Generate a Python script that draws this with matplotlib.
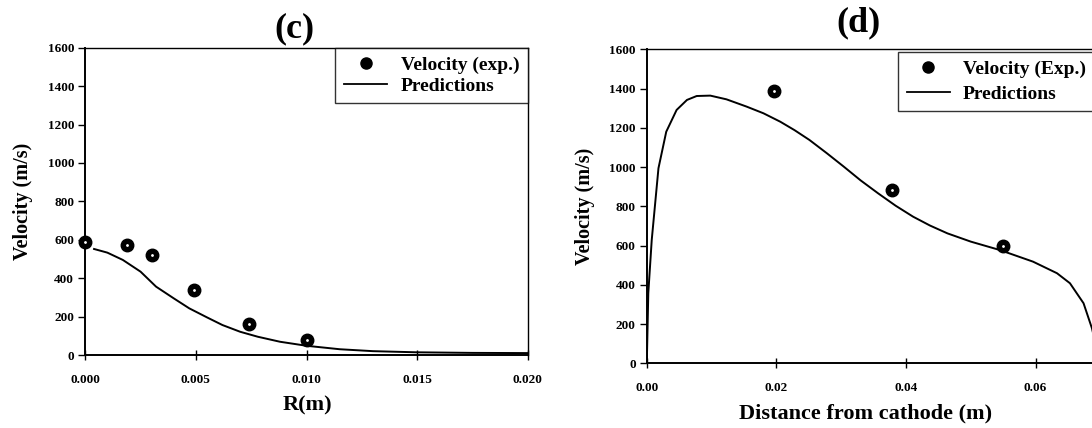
import matplotlib
matplotlib.use("Agg")
import matplotlib.pyplot as plt
from matplotlib.lines import Line2D

plt.rcParams["font.family"] = ["Liberation Serif", "DejaVu Serif"]
plt.rcParams["font.weight"] = "bold"

# (c) radial velocity profile
r_exp = [0.0, 0.0019, 0.0030, 0.0049, 0.0074, 0.0100]
v_exp_c = [588, 573, 522, 338, 160, 78]
r_pred = [0.0004, 0.0010, 0.0017, 0.0025, 0.0032, 0.0040, 0.0047, 0.0055,
          0.0062, 0.0070, 0.0078, 0.0088, 0.0100, 0.0115, 0.0130, 0.0150,
          0.0175, 0.0200]
v_pred_c = [552, 533, 495, 434, 356, 295, 243, 196, 156, 121, 95, 69, 48,
            30, 20, 14, 11, 10]
c_xticks = [0.000, 0.005, 0.010, 0.015, 0.020]
c_xticklabels = ["0.000", "0.005", "0.010", "0.015", "0.020"]

# (d) axial velocity profile
d_exp = [0.0197, 0.0379, 0.0549]
v_exp_d = [1389, 883, 598]
d_pred = [0.0, 0.00023, 0.00076, 0.0018, 0.0030, 0.0046, 0.0062, 0.0077,
          0.0098, 0.0123, 0.0154, 0.0180, 0.0206, 0.0228, 0.0251, 0.0278,
          0.0304, 0.0330, 0.0357, 0.0384, 0.0411, 0.0437, 0.0464, 0.0500,
          0.0545, 0.0596, 0.0633, 0.0653, 0.0674, 0.0687, 0.0698]
v_pred_d = [0, 357, 628, 994, 1180, 1291, 1342, 1362, 1364, 1345, 1308,
            1274, 1231, 1188, 1138, 1070, 1002, 932, 866, 803, 747, 702, 662,
            620, 577, 518, 459, 408, 306, 178, 20]
d_xticks = [0.00, 0.02, 0.04, 0.06]
d_xticklabels = ["0.00", "0.02", "0.04", "0.06"]

y_ticks = [0, 200, 400, 600, 800, 1000, 1200, 1400, 1600]

W, H = 1092, 428
fig = plt.figure(figsize=(W / 100, H / 100), dpi=100)


def px_axes(left, top, right, bottom):
    return fig.add_axes([left / W, 1 - bottom / H, (right - left) / W,
                         (bottom - top) / H])


def style(ax, xpad):
    for s in ax.spines.values():
        s.set_linewidth(1.0)
    ax.spines["left"].set_linewidth(1.4)
    ax.spines["bottom"].set_linewidth(1.4)
    ax.tick_params(axis="x", direction="inout", length=7, width=1.0,
                   labelsize=9.5, pad=xpad)
    ax.tick_params(axis="y", direction="out", length=5, width=1.0,
                   labelsize=9.5, pad=3)
    for lab in ax.get_xticklabels() + ax.get_yticklabels():
        lab.set_fontweight("bold")


def exp_points(ax, x, y):
    ax.plot(x, y, "o", color="black", ms=9, zorder=3, clip_on=False)
    ax.plot(x, y, ".", color="white", ms=2, zorder=4, clip_on=False)


handles = [
    Line2D([], [], marker="o", ls="none", color="black", ms=8),
    Line2D([], [], color="black", lw=1.3),
]

# panel (c)
ax1 = px_axes(85.2, 47.7, 527.9, 355)
ax1.plot(r_pred, v_pred_c, color="black", lw=1.4, zorder=2)
exp_points(ax1, r_exp, v_exp_c)
ax1.set_xlim(0, 0.020)
ax1.set_ylim(0, 1600)
ax1.set_xticks(c_xticks)
ax1.set_xticklabels(c_xticklabels)
ax1.set_yticks(y_ticks)
style(ax1, 10)
ax1.set_xlabel("R(m)", fontsize=16, fontweight="bold")
ax1.xaxis.label.set_va("center")
ax1.xaxis.set_label_coords((307 - 85.2) / 442.7, (355 - 405) / 307.3)
ax1.set_ylabel("Velocity (m/s)", fontsize=14.5, fontweight="bold")
ax1.yaxis.label.set_va("center")
ax1.yaxis.set_label_coords((23 - 85.2) / 442.7, 0.5)
leg1 = ax1.legend(handles, ["Velocity (exp.)", "Predictions"],
                  loc="upper right", bbox_to_anchor=(1.0, 1.0),
                  borderaxespad=0, frameon=True, fancybox=False,
                  edgecolor="black", prop={"size": 14, "weight": "bold"},
                  handlelength=2.2, handletextpad=0.7, labelspacing=0.15,
                  borderpad=0.45)
leg1.get_frame().set_linewidth(1.0)

# panel (d)
ax2 = px_axes(646.8, 49.3, 1100.4, 363.3)
ax2.plot(d_pred, v_pred_d, color="black", lw=1.4, zorder=2)
exp_points(ax2, d_exp, v_exp_d)
ax2.set_xlim(0, 0.07)
ax2.set_ylim(0, 1600)
ax2.set_xticks(d_xticks)
ax2.set_xticklabels(d_xticklabels)
ax2.set_yticks(y_ticks)
style(ax2, 10)
ax2.set_xlabel("Distance from cathode (m)", fontsize=16, fontweight="bold")
ax2.xaxis.label.set_va("center")
ax2.xaxis.set_label_coords((866 - 646.8) / 453.6, (363.3 - 413) / 314)
ax2.set_ylabel("Velocity (m/s)", fontsize=14.5, fontweight="bold")
ax2.yaxis.label.set_va("center")
ax2.yaxis.set_label_coords((584.6 - 646.8) / 453.6, 0.5)
leg2 = ax2.legend(handles, ["Velocity (Exp.)", "Predictions"],
                  loc="upper left",
                  bbox_to_anchor=((898 - 646.8) / 453.6, (363.3 - 51.7) / 314),
                  borderaxespad=0, frameon=True, fancybox=False,
                  edgecolor="black", prop={"size": 14, "weight": "bold"},
                  handlelength=2.2, handletextpad=0.7, labelspacing=0.35,
                  borderpad=0.45)
leg2.get_frame().set_linewidth(1.0)

fig.text(294 / W, 1 - 29 / H, "(c)", ha="center", va="center",
         fontsize=26, fontweight="bold")
fig.text(859 / W, 1 - 22.5 / H, "(d)", ha="center", va="center",
         fontsize=26, fontweight="bold")

fig.savefig("out.png", dpi=100)
